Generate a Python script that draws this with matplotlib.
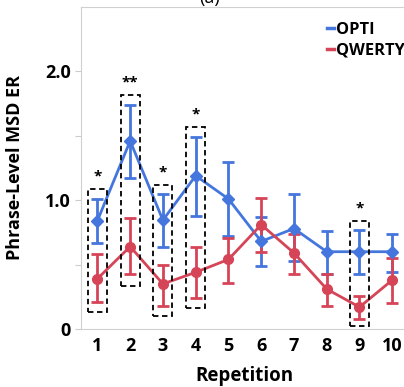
import numpy as np
import matplotlib
matplotlib.use("Agg")
import matplotlib.pyplot as plt
from matplotlib.lines import Line2D

plt.rcParams['font.family'] = ['Open Sans', 'DejaVu Sans']

# data
reps = [1, 2, 3, 4, 5, 6, 7, 8, 9, 10]
opti_mean = [0.84, 1.46, 0.845, 1.19, 1.01, 0.68, 0.78, 0.60, 0.60, 0.60]
opti_hi = [1.01, 1.74, 1.05, 1.49, 1.30, 0.87, 1.05, 0.76, 0.77, 0.74]
opti_lo = [0.67, 1.17, 0.64, 0.88, 0.72, 0.49, 0.53, 0.43, 0.43, 0.44]
qw_mean = [0.39, 0.64, 0.35, 0.44, 0.54, 0.81, 0.59, 0.31, 0.17, 0.38]
qw_hi = [0.58, 0.86, 0.50, 0.64, 0.71, 1.02, 0.74, 0.43, 0.26, 0.55]
qw_lo = [0.21, 0.43, 0.18, 0.24, 0.36, 0.60, 0.43, 0.18, 0.08, 0.20]

# significance boxes: repetition, bottom, top, stars
sig_reps = [1, 2, 3, 4, 9]
sig_lo = [0.13, 0.33, 0.10, 0.16, 0.02]
sig_hi = [1.09, 1.82, 1.12, 1.57, 0.84]
sig_txt = ['*', '**', '*', '*', '*']

blue = '#4476DD'
red = '#D64457'

fig = plt.figure(figsize=(4.04, 3.87), dpi=100)
ax = fig.add_axes([0.2005, 0.1499, 0.811, 0.832])

x = np.array(reps)
ax.errorbar(x, opti_mean,
            yerr=[np.subtract(opti_mean, opti_lo), np.subtract(opti_hi, opti_mean)],
            color=blue, lw=2, marker='D', ms=6.5, capsize=4, capthick=2,
            elinewidth=2, label='OPTI', zorder=3)
ax.errorbar(x, qw_mean,
            yerr=[np.subtract(qw_mean, qw_lo), np.subtract(qw_hi, qw_mean)],
            color=red, lw=2, marker='o', ms=7, capsize=4, capthick=2,
            elinewidth=2, label='QWERTY', zorder=3)

for r, lo, hi, t in zip(sig_reps, sig_lo, sig_hi, sig_txt):
    ax.add_patch(plt.Rectangle((r - 0.29, lo), 0.58, hi - lo, fill=False,
                               ls=(0, (3, 2)), lw=1.3, ec='black', zorder=4))
    ax.text(r, hi + 0.04, t, ha='center', va='bottom', fontsize=11,
            fontweight='bold')

ax.set_xlim(0.5, 10.5)
ax.set_ylim(0, 2.5)
ax.set_xticks(reps)
ax.set_yticks([0, 0.5, 1.0, 1.5, 2.0])
ax.set_yticklabels(['0', '', '1.0', '', '2.0'])
ax.tick_params(axis='both', labelsize=13, color='#cccccc', length=4)
ax.tick_params(axis='x', length=0, pad=6)
for lab in ax.get_xticklabels() + ax.get_yticklabels():
    lab.set_fontweight('bold')
for s in ax.spines.values():
    s.set_color('#d0d0d0')

ax.set_xlabel('Repetition', fontsize=13.5, fontweight='bold', labelpad=8)
ax.set_ylabel('Phrase-Level MSD ER', fontsize=13, fontweight='bold')
ax.yaxis.set_label_coords(-0.175, 0.5)

handles = [Line2D([], [], color=blue, lw=2.5), Line2D([], [], color=red, lw=2.5)]
ax.legend(handles, ['OPTI', 'QWERTY'], loc='upper left', bbox_to_anchor=(0.72, 0.985),
          frameon=False, handlelength=0.45, handletextpad=0.1, labelspacing=0.3,
          borderaxespad=0.2, prop={'weight': 'bold', 'size': 11.8})

fig.text(0.52, 1.005, '(a)', ha='center', va='center', fontsize=13)

fig.savefig('out.png', dpi=100)
